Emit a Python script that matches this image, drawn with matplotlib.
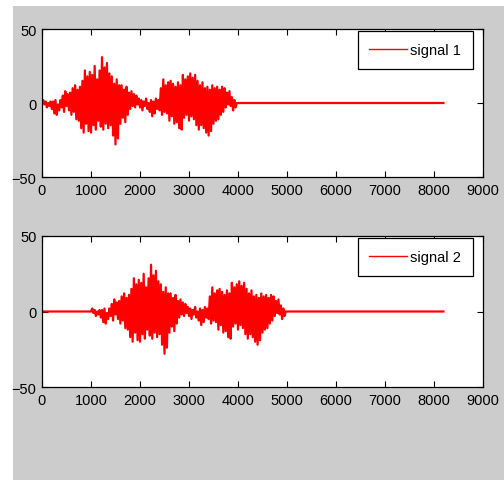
import numpy as np
import matplotlib
matplotlib.use("Agg")
import matplotlib.pyplot as plt
from matplotlib.patches import Rectangle

# valeurs (un point tous les 25 echantillons, de 0 a 3975)
step = 25
burst = [
    0, 2, -1, 1, -3, 0, -2, 1,
    -4, 1, -7, 2, -8, -1, -5, 2,
    -3, 5, -6, 8, -2, 6, -5, 7,
    -8, 10, -6, 12, -11, 9, -12, 11,
    -17, 15, -20, 22, -14, 18, -19, 21,
    -20, 19, -15, 25, -18, 16, -12, 22,
    -16, 31, -18, 24, -14, 27, -17, 20,
    -15, 18, -22, 13, -28, 16, -24, 12,
    -14, 12, -10, 9, -13, 11, -8, 7,
    -4, 8, -2, 6, -3, 5, -1, 3,
    -3, 2, -5, 1, -2, 3, -4, 0,
    -6, 2, -9, 1, -7, 3, -4, 2,
    -5, 10, -8, 16, -6, 12, -7, 14,
    -12, 15, -9, 13, -14, 11, -13, 14,
    -17, 12, -18, 19, -10, 16, -8, 18,
    -12, 20, -9, 17, -11, 19, -15, 15,
    -18, 12, -15, 14, -17, 10, -20, 11,
    -22, 9, -19, 12, -14, 10, -12, 11,
    -11, 9, -8, 11, -6, 10, -3, 7,
    -1, 8, -2, 4, -5, 2, -3, 0,
]
n_samples = 8192
delays = [0, 1000]          # signal 2 = signal 1 retarde de 1000 echantillons
labels = ["signal 1", "signal 2"]
xticks = list(range(0, 9001, 1000))
yticks = [-50, 0, 50]


def build_signal(delay):
    """Construit (x, y) du signal : zeros, rafale, zeros jusqu'a n_samples."""
    x_burst = delay + np.arange(len(burst)) * step
    x_end = delay + len(burst) * step
    x = np.concatenate([[0, delay], x_burst, [x_end, n_samples]])
    y = np.concatenate([[0, 0], burst, [0, 0]])
    return x, y


plt.rcParams["font.family"] = ["Liberation Sans", "DejaVu Sans"]

W, H = 504, 481
fig = plt.figure(figsize=(W / 100, H / 100), dpi=100, facecolor="#cccccc")
# bandes blanches de la capture d'ecran (gauche et haut)
fig.patches.append(Rectangle((0, 0), 13 / W, 1, transform=fig.transFigure,
                             facecolor="white", edgecolor="none", zorder=-1))
fig.patches.append(Rectangle((0, 1 - 7 / H), 1, 7 / H, transform=fig.transFigure,
                             facecolor="white", edgecolor="none", zorder=-1))

# positions des axes en pixels : (gauche, haut, droite, bas)
boxes = [(42, 30, 483, 178), (42, 237, 483, 388)]

for (l, t, r, b), delay, lab in zip(boxes, delays, labels):
    ax = fig.add_axes([l / W, 1 - b / H, (r - l) / W, (b - t) / H])
    x, y = build_signal(delay)
    ax.plot(x, y, color="#ff0000", lw=1.6, label=lab)
    ax.set_xlim(0, 9000)
    ax.set_ylim(-50, 50)
    ax.set_xticks(xticks)
    ax.set_yticks(yticks)
    ax.tick_params(direction="in", top=True, right=True, length=4, width=0.8,
                   labelsize=10.5, pad=4)
    for s in ax.spines.values():
        s.set_linewidth(0.9)
    leg = ax.legend(loc="upper right", bbox_to_anchor=(0.977, 0.985),
                    borderaxespad=0, fancybox=False, framealpha=1,
                    edgecolor="black", fontsize=10.5, handlelength=2.6,
                    borderpad=0.8, handletextpad=0.2)
    leg.get_frame().set_linewidth(0.9)
    leg.get_lines()[0].set_linewidth(1.0)

fig.savefig("out.png", dpi=100, facecolor=fig.get_facecolor())
